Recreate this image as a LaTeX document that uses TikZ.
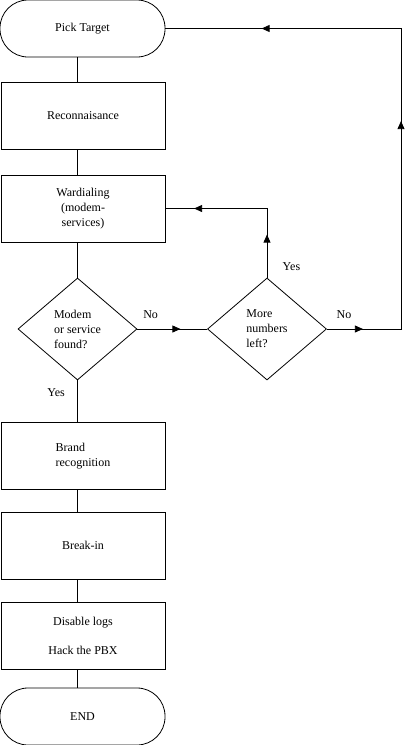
\documentclass[tikz,border=0pt]{standalone}
\usepackage{fontspec}
\setmainfont{Liberation Serif}
\usetikzlibrary{shapes.geometric,decorations.markings,arrows.meta}

\tikzset{
  terminal/.style={draw, rectangle, rounded corners=28pt, minimum width=165pt, minimum height=57pt},
  box/.style={draw, rectangle, minimum width=164pt, minimum height=67pt, align=center},
  decision/.style={draw, diamond, minimum width=119pt, minimum height=102pt, inner sep=0pt, align=left},
  tipat/.style={postaction={decorate,decoration={markings,
      mark=at position #1 with {\arrow{Triangle[length=8pt,width=7pt]}}}}}
}

\begin{document}
\begin{tikzpicture}[x=1pt,y=-1pt,line width=0.8pt,font=\fontsize{12}{15}\selectfont]
\useasboundingbox (0,0) rectangle (407,745);

% Main column
\node[terminal] (pick) at (82.5,28.5) {Pick Target};
\node[box] (recon) at (83,116) {Reconnaisance};
\node[box] (ward) at (83,208.5) {Wardialing\\(modem-\\services)};
\node[decision] (found) at (77.5,329) {Modem\\or service\\found?};
\node[decision] (more) at (267,329) {More\\numbers\\left?};
\node[box] (brand) at (83,456) {\begin{tabular}{@{}l@{}}Brand\\recognition\end{tabular}};
\node[box] (breakin) at (83,545.5) {Break-in};
\node[box] (disable) at (83,636) {Disable logs\\[14pt]Hack the PBX};
\node[terminal] (end) at (82.5,716.5) {END};

% Return path
\coordinate (rim) at (401,0);

% Straight links
\draw (pick.south -| found) -- (recon.north -| found);
\draw (recon.south -| found) -- (ward.north -| found);
\draw (ward.south -| found) -- (found.north);
\draw (found.south) -- node[left=9pt,pos=0.3] {Yes} (brand.north -| found);
\draw (brand.south -| found) -- (breakin.north -| found);
\draw (breakin.south -| found) -- (disable.north -| found);
\draw (disable.south -| found) -- (end.north -| found);

% Decisions
\draw[tipat=43pt] (found.east) -- node[above=7pt,pos=0.19] {No} (more.west);
\draw[tipat=43pt,tipat=142pt] (more.north) |- node[right=12pt,pos=0.08] {Yes} (ward.east);
\draw[tipat=36pt,tipat=282pt,tipat=514pt] (more.east)
  -- node[above=7pt,pos=0.23] {No} (more.east -| rim)
  -- (pick.east -| rim) -- (pick.east);
\end{tikzpicture}
\end{document}
